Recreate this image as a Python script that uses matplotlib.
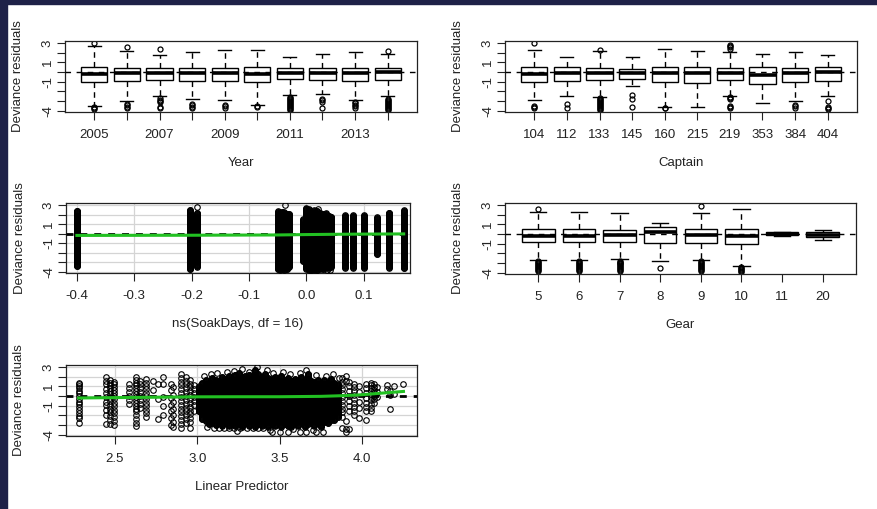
import numpy as np
import matplotlib
matplotlib.use('Agg')
import matplotlib.pyplot as plt
from matplotlib.patches import Rectangle

plt.rcParams['font.family'] = ['Liberation Sans', 'DejaVu Sans']
plt.rcParams['font.size'] = 9.5

# ---- residuals by Year ----
years = ['2005', '2006', '2007', '2008', '2009', '2010', '2011', '2012', '2013', '2014']
year_ticks = ['2005', '', '2007', '', '2009', '', '2011', '', '2013', '']
year_q1 = [-1.03, -0.95, -0.83, -0.90, -0.95, -1.03, -0.73, -0.80, -0.90, -0.83]
year_med = [-0.18, -0.10, -0.05, -0.08, -0.08, -0.15, -0.05, -0.05, -0.05, -0.03]
year_q3 = [0.48, 0.40, 0.40, 0.40, 0.40, 0.48, 0.40, 0.40, 0.40, 0.40]
year_lo = [-3.50, -3.00, -2.45, -2.80, -2.85, -3.45, -2.35, -2.25, -2.85, -2.50]
year_hi = [2.65, 2.20, 1.80, 2.03, 2.30, 2.30, 1.60, 1.85, 2.03, 1.90]
year_out = [
    [3.0, -3.6, -3.7, -3.8],
    [2.6, -3.3, -3.45, -3.6, -3.7],
    [2.35, -2.7, -2.85, -3.0, -3.1, -3.6, -3.7],
    [-3.3, -3.45, -3.6, -3.7],
    [-3.4, -3.55, -3.7],
    [-3.55, -3.65],
    [-2.6, -2.7, -2.8, -2.9, -3.0, -3.1, -3.2, -3.3, -3.4, -3.5, -3.6, -3.7, -3.8, -3.9],
    [-2.75, -2.9, -3.1, -3.7],
    [-3.1, -3.25, -3.4, -3.55, -3.7],
    [2.2, -2.8, -2.9, -3.0, -3.1, -3.2, -3.3, -3.4, -3.5, -3.6, -3.7, -3.8, -3.9],
]

# ---- residuals by Captain ----
captains = ['104', '112', '133', '145', '160', '215', '219', '353', '384', '404']
cap_q1 = [-1.03, -0.90, -0.83, -0.73, -1.03, -1.14, -0.83, -1.28, -1.03, -0.90]
cap_med = [-0.18, -0.08, -0.08, -0.08, -0.08, -0.12, -0.08, -0.28, -0.12, -0.03]
cap_q3 = [0.48, 0.48, 0.40, 0.27, 0.48, 0.48, 0.40, 0.55, 0.40, 0.48]
cap_lo = [-2.85, -2.45, -2.60, -1.40, -3.60, -3.60, -2.45, -3.20, -3.05, -2.45]
cap_hi = [2.30, 1.55, 2.20, 1.60, 2.35, 2.20, 2.10, 1.90, 2.10, 1.80]
cap_out = [
    [3.0, -3.5, -3.6, -3.7],
    [-3.3, -3.7],
    [2.3, -2.7, -2.8, -2.9, -3.0, -3.1, -3.2, -3.3, -3.4, -3.5, -3.6, -3.7, -3.8, -3.9],
    [-2.4, -2.75, -3.6],
    [-3.7, -3.75],
    [],
    [2.4, 2.55, 2.7, 2.85, -2.6, -2.7, -2.8, -3.5, -3.6, -3.7],
    [],
    [-3.4, -3.55, -3.7],
    [-3.0, -3.6, -3.7, -3.8],
]

# ---- residuals by Gear ----
gears = ['5', '6', '7', '8', '9', '10', '11', '20']
gear_q1 = [-0.85, -0.85, -0.78, -0.95, -0.88, -1.06, -0.14, -0.27]
gear_med = [-0.17, -0.17, -0.14, 0.17, -0.14, -0.20, 0.0, -0.10]
gear_q3 = [0.48, 0.48, 0.40, 0.75, 0.48, 0.50, 0.17, 0.24]
gear_lo = [-2.66, -2.66, -2.60, -2.83, -2.70, -3.35, -0.20, -0.60]
gear_hi = [2.30, 2.30, 2.20, 1.16, 2.18, 2.60, 0.24, 0.38]
gear_out = [
    [2.63, -2.8, -2.9, -3.0, -3.1, -3.2, -3.3, -3.4, -3.5, -3.6, -3.7, -3.8],
    [-2.8, -2.9, -3.0, -3.1, -3.2, -3.3, -3.4, -3.5, -3.6, -3.7, -3.8],
    [-2.75, -2.85, -2.95, -3.05, -3.15, -3.25, -3.35, -3.45, -3.55, -3.65, -3.75, -3.85],
    [-3.5],
    [2.93, -2.8, -2.9, -3.0, -3.1, -3.2, -3.3, -3.4, -3.5, -3.6, -3.7, -3.8],
    [-3.45, -3.55, -3.65, -3.75, -3.85, -3.95],
    [],
    [],
]

# ---- residuals vs ns(SoakDays) : columns of overlapping points ----
ns_x = [-0.399, -0.202, -0.190,
        -0.050, -0.046, -0.042, -0.038, -0.034, -0.030,
        -0.006, -0.001, 0.004, 0.009, 0.014, 0.019, 0.024, 0.029, 0.034, 0.039, 0.044,
        0.068, 0.082, 0.100, 0.124, 0.145, 0.171]
ns_lo = [-3.41, -3.75, -3.50,
         -3.75, -3.80, -3.70, -3.80, -3.75, -3.50,
         -2.90, -3.70, -3.80, -3.85, -3.80, -3.85, -3.70, -3.75, -3.60, -3.60, -3.50,
         -3.60, -3.60, -3.60, -2.15, -3.60, -3.65]
ns_hi = [2.39, 2.50, 2.20,
         2.35, 2.20, 2.30, 2.25, 2.10, 2.10,
         1.50, 2.60, 2.50, 2.30, 2.45, 2.40, 2.20, 2.10, 2.15, 1.90, 1.80,
         1.95, 1.95, 1.95, 1.70, 2.20, 2.45]
ns_pts_x = [-0.190, -0.037, -0.001, 0.005, 0.020, -0.045, -0.040, 0.036, 0.041]
ns_pts_y = [2.80, 2.97, 2.73, 2.60, 2.55, -3.10, -3.35, -3.85, -3.80]
ns_fit_x = [-0.40, -0.30, -0.20, -0.10, -0.05, 0.00, 0.05, 0.10, 0.17]
ns_fit_y = [-0.19, -0.18, -0.17, -0.15, -0.14, -0.10, -0.07, -0.05, -0.03]
ns_ticks = [-0.4, -0.3, -0.2, -0.1, 0.0, 0.1]
ns_ticklabels = ['-0.4', '-0.3', '-0.2', '-0.1', '0.0', '0.1']

# ---- residuals vs linear predictor ----
# sparse columns at the low and high end
lp_col_x = [2.28, 2.445, 2.47, 2.495, 2.585, 2.63, 2.65, 2.69, 2.73, 2.76, 2.79, 2.84,
            2.855, 2.90, 2.93, 2.955, 2.98,
            3.88, 3.90, 3.92, 3.95, 3.98, 4.02, 4.05, 4.07, 4.09, 4.15, 4.17, 4.19, 4.25]
lp_col_y = [
    [1.4, 1.2, 1.0, 0.8, 0.55, 0.3, 0.05, -0.3, -0.6, -0.85, -1.1, -1.4, -1.75, -2.05, -2.3, -2.8],
    [1.95, 1.6, 1.2, 0.75, 0.35, -0.1, -0.6, -0.95, -1.45, -2.0, -2.85],
    [1.7, 1.4, 1.1, 0.8, 0.5, 0.2, -0.2, -0.5, -0.9, -1.3, -1.7, -2.1, -2.5, -2.9],
    [1.5, 1.2, 0.9, 0.6, 0.3, 0.0, -0.3, -0.7, -1.0, -1.4, -1.8, -2.2, -2.6, -2.95],
    [1.2, 0.8, 0.4, 0.0, -0.4, -0.85],
    [2.0, 1.7, 1.4, 1.1, 0.8, 0.5, 0.2, -0.1, -0.4, -0.7, -1.0, -1.3, -1.6, -2.0, -2.4, -2.8, -3.1],
    [1.6, 1.2, 0.8, 0.4, 0.0, -0.4, -0.8, -1.2],
    [1.75, 1.4, 1.05, 0.7, 0.35, 0.0, -0.35, -0.7, -1.05, -1.4, -1.8, -2.2],
    [1.6, 0.65],
    [1.3, -0.3, -2.4],
    [1.95, 1.3, -0.1, -1.0, -2.0],
    [1.3, 0.6, -0.2, -0.9, -1.6, -2.3, -3.0],
    [0.9, 0.1, -0.6, -1.3, -2.0, -2.7, -3.2],
    [2.3, 1.9, 1.5, 1.1, 0.7, 0.3, -0.1, -0.5, -0.9, -1.3, -1.7, -2.1, -2.5, -2.9, -3.3],
    [2.0, 1.6, 1.2, 0.8, 0.4, 0.0, -0.4, -0.8, -1.2, -1.6, -2.0, -2.4, -2.8],
    [1.7, 1.3, 0.9, 0.5, 0.1, -0.3, -0.7, -1.1, -1.5, -1.9, -2.3, -2.7, -3.3],
    [1.1, 0.7, 0.3, -0.1, -0.5, -0.9, -1.5],
    [1.9, 1.5, 1.1, 0.7, 0.3, -0.1, -0.5, -0.9, -1.3, -1.7, -2.2, -3.3],
    [2.1, 1.6, -2.6, -3.4, -3.7],
    [1.5, 1.0, 0.5, 0.0, -0.5, -1.0, -1.5, -3.4],
    [1.3, 0.9, 0.5, 0.1, -0.3, -0.7, -1.1, -1.5, -2.0],
    [1.0, 0.4, -0.6, -1.2, -2.3],
    [1.3, 0.8, 0.3, -0.2, -0.7, -1.1, -1.6, -2.5],
    [1.4, 1.1, 0.8, 0.5, 0.2, -0.1, -0.4, -0.8, -1.2, -1.6],
    [1.2, 0.9, 0.6, 0.3, 0.0, -0.3, -0.7],
    [0.9, 0.4, -0.1],
    [1.15, 0.7],
    [0.5, 0.1, -1.35],
    [1.0, 0.25],
    [1.2],
]
# dense middle of the cloud
lp_dense_x = [3.01, 3.03, 3.05, 3.07, 3.09, 3.11, 3.13, 3.15, 3.17, 3.19, 3.21, 3.23, 3.25,
              3.27, 3.29, 3.31, 3.33, 3.35, 3.37, 3.39, 3.41, 3.43, 3.45, 3.47, 3.49, 3.51,
              3.53, 3.55, 3.57, 3.59, 3.61, 3.63, 3.65, 3.67, 3.69, 3.71, 3.73, 3.75, 3.77,
              3.79, 3.81, 3.83, 3.85]
lp_dense_lo = [-1.6, -2.4, -2.6, -2.9, -2.7, -3.0, -2.8, -3.1, -2.7, -3.1, -2.8, -3.1, -2.9,
               -3.2, -2.8, -3.1, -2.7, -3.2, -2.9, -3.1, -2.8, -3.2, -2.9, -3.1, -2.7, -3.2,
               -2.9, -3.1, -3.2, -2.8, -3.1, -2.7, -3.2, -2.9, -2.7, -3.1, -2.8, -3.2, -2.7,
               -2.8, -2.5, -2.5, -2.2]
lp_dense_hi = [1.0, 1.4, 1.7, 1.4, 1.9, 1.7, 1.6, 2.0, 1.8, 2.1, 1.8, 2.2, 2.4,
               1.9, 2.1, 2.2, 1.9, 2.7, 2.3, 2.0, 2.3, 1.9, 1.8, 2.0, 1.7, 2.1,
               1.7, 1.9, 1.6, 1.8, 1.7, 2.0, 1.7, 2.3, 1.6, 1.5, 1.7, 1.4, 1.7,
               1.4, 1.8, 1.4, 1.2]
lp_low_x = [3.10, 3.13, 3.16, 3.19, 3.22, 3.26, 3.30, 3.34, 3.37, 3.40, 3.45, 3.50, 3.55,
            3.62, 3.66, 3.72, 3.76, 3.06, 3.24, 3.44, 3.58, 3.70]
lp_low_y = [-3.35, -3.35, -3.35, -3.35, -3.35, -3.35, -3.35, -3.35, -3.35, -3.35, -3.7, -3.7,
            -3.7, -3.7, -3.7, -3.7, -3.7, -3.2, -3.6, -3.5, -3.4, -3.55]
lp_top_x = [3.04, 3.08, 3.12, 3.18, 3.22, 3.27, 3.31, 3.36, 3.42, 3.46, 3.52, 3.56, 3.62,
            3.66, 3.72, 3.78, 3.82, 3.86]
lp_top_y = [2.1, 2.3, 2.4, 2.5, 2.6, 2.8, 2.5, 3.0, 2.7, 2.4, 2.5, 2.3, 2.4, 2.7, 2.2, 2.1,
            2.3, 1.9]
lp_fit_x = [2.28, 2.50, 2.75, 3.00, 3.25, 3.50, 3.75, 3.90, 4.00, 4.10, 4.25]
lp_fit_y = [-0.20, -0.16, -0.12, -0.08, -0.07, -0.07, -0.03, 0.05, 0.14, 0.28, 0.48]
lp_ticks = [2.5, 3.0, 3.5, 4.0]
lp_ticklabels = ['2.5', '3.0', '3.5', '4.0']

y_ticks = [-4, -3, -2, -1, 0, 1, 2, 3]
y_ticklabels = ['-4', '', '', '-1', '', '1', '', '3']

W, H = 878, 509
fig = plt.figure(figsize=(W / 100, H / 100), dpi=100)
fig.patches.append(Rectangle((0, 1 - 4 / H), 1, 4 / H, transform=fig.transFigure,
                             color='#1e2148', zorder=-5))
fig.patches.append(Rectangle((0, 0), 7 / W, 1, transform=fig.transFigure,
                             color='#1e2148', zorder=-5))

MS = 4.0  # open circle size for the scatter panels


def make_ax(x0, x1, y0, y1):
    # pixel box -> figure fraction
    return fig.add_axes([x0 / W, 1 - y1 / H, (x1 - x0) / W, (y1 - y0) / H])


def common(ax, xlabel, h):
    ax.set_ylim(-4.14, 3.22)
    ax.set_yticks(y_ticks)
    ax.set_yticklabels(y_ticklabels)
    ax.tick_params(axis='y', labelrotation=90, length=5.5, width=0.8, pad=2.5, colors='#222222')
    ax.tick_params(axis='x', length=5.5, width=0.8, pad=6.5, colors='#222222')
    for lab in ax.get_yticklabels():
        lab.set_va('center')
    for sp in ax.spines.values():
        sp.set_linewidth(0.9)
        sp.set_color('#222222')
    ax.set_xlabel(xlabel, color='#222222')
    ax.set_ylabel('Deviance residuals', color='#222222')
    ax.xaxis.set_label_coords(0.5, -45 / h)
    ax.yaxis.set_label_coords(-41 / 352, 0.5)


def box_panel(ax, ticks, q1, med, q3, lo, hi, out):
    stats = [dict(q1=q1[i], med=med[i], q3=q3[i], whislo=lo[i], whishi=hi[i], fliers=out[i])
             for i in range(len(ticks))]
    pos = np.arange(1, len(ticks) + 1)
    ax.bxp(stats, positions=pos, widths=0.8, capwidths=0.4, patch_artist=True,
           boxprops=dict(facecolor='white', edgecolor='black', linewidth=1),
           whiskerprops=dict(color='black', linewidth=1, linestyle=(0, (4, 3))),
           capprops=dict(color='black', linewidth=1),
           medianprops=dict(color='black', linewidth=2.6, solid_capstyle='butt'),
           flierprops=dict(marker='o', markerfacecolor='none', markeredgecolor='black',
                           markersize=3.6, markeredgewidth=0.9))
    n = len(ticks)
    ax.set_xlim(0.5 - 0.04 * n, n + 0.5 + 0.04 * n)
    ax.axhline(0, color='black', lw=1, ls=(0, (4, 4)), zorder=5)
    ax.set_xticks(pos)
    ax.set_xticklabels(ticks)


def stack(ax, xs, lo, hi):
    # a run of overlapping open circles between lo and hi
    for x, a, b in zip(xs, lo, hi):
        ys = np.append(np.arange(a, b, 0.05), b)
        ax.plot(np.full(len(ys), x), ys, 'o', mfc='none', mec='black', ms=MS, mew=0.8, zorder=3)


def grid(ax, xt):
    for y in y_ticks:
        ax.axhline(y, color='#d4d4d4', lw=0.9, zorder=1)
    for x in xt:
        ax.axvline(x, color='#d4d4d4', lw=0.9, zorder=1)


# Year
ax1 = make_ax(65, 417, 41, 112)
box_panel(ax1, year_ticks, year_q1, year_med, year_q3, year_lo, year_hi, year_out)
common(ax1, 'Year', 71)

# Captain
ax2 = make_ax(505, 857, 41, 112)
box_panel(ax2, captains, cap_q1, cap_med, cap_q3, cap_lo, cap_hi, cap_out)
common(ax2, 'Captain', 71)

# ns(SoakDays)
ax3 = make_ax(66, 410, 203, 273)
grid(ax3, ns_ticks)
stack(ax3, ns_x, ns_lo, ns_hi)
ax3.plot(ns_pts_x, ns_pts_y, 'o', mfc='none', mec='black', ms=MS, mew=0.8, zorder=3)
ax3.axhline(0, color='black', lw=2, ls=(0, (2.5, 2.5)), zorder=4)
ax3.plot(ns_fit_x, ns_fit_y, color='#22c022', lw=2.2, zorder=5)
ax3.set_xlim(-0.419, 0.181)
ax3.set_xticks(ns_ticks)
ax3.set_xticklabels(ns_ticklabels)
common(ax3, 'ns(SoakDays, df = 16)', 70)

# Gear
ax4 = make_ax(505, 856, 203, 274)
box_panel(ax4, gears, gear_q1, gear_med, gear_q3, gear_lo, gear_hi, gear_out)
common(ax4, 'Gear', 71)

# Linear predictor
ax5 = make_ax(66, 417, 365, 436)
grid(ax5, lp_ticks)
stack(ax5, lp_dense_x, lp_dense_lo, lp_dense_hi)
for x, ys in zip(lp_col_x, lp_col_y):
    ax5.plot([x] * len(ys), ys, 'o', mfc='none', mec='black', ms=MS, mew=0.8, zorder=3)
ax5.plot(lp_low_x, lp_low_y, 'o', mfc='none', mec='black', ms=MS, mew=0.8, zorder=3)
ax5.plot(lp_top_x, lp_top_y, 'o', mfc='none', mec='black', ms=MS, mew=0.8, zorder=3)
ax5.axhline(0, color='black', lw=2, ls=(0, (2.5, 2.5)), zorder=2)
ax5.plot(lp_fit_x, lp_fit_y, color='#22c022', lw=2.2, zorder=5)
ax5.set_xlim(2.203, 4.332)
ax5.set_xticks(lp_ticks)
ax5.set_xticklabels(lp_ticklabels)
common(ax5, 'Linear Predictor', 71)

fig.savefig('out.png', dpi=100, facecolor='white')
